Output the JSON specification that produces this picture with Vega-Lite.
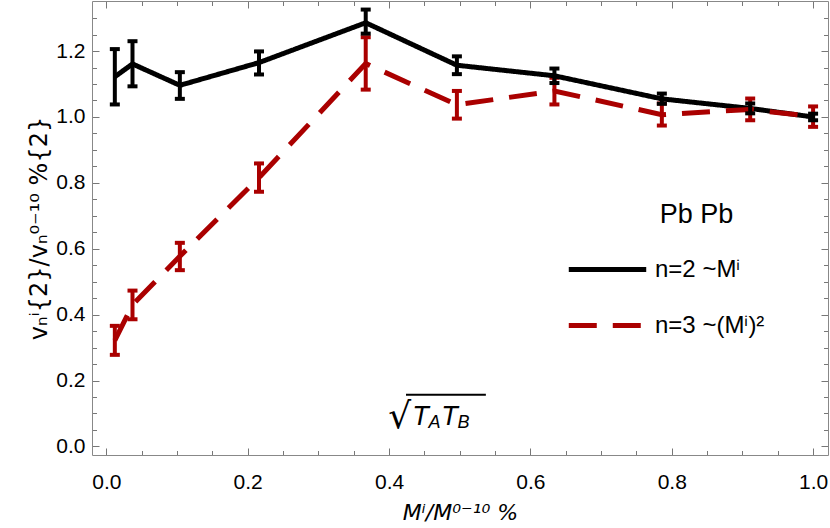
{
  "$schema": "https://vega.github.io/schema/vega-lite/v6.json",
  "width": 736,
  "height": 454,
  "autosize": {"type": "none"},
  "padding": {"left": 92, "top": 1, "right": 2, "bottom": 73},
  "background": "white",
  "config": {
    "view": {"stroke": null},
    "font": "Liberation Sans",
    "axis": {"domainColor": "#888888", "tickColor": "#777777", "labelColor": "black", "labelFont": "Liberation Sans", "labelFontSize": 21, "grid": false, "titleFont": "DejaVu Sans", "titleColor": "black", "titleFontWeight": "normal"}
  },
  "datasets": {
    "pts": [
      {"series": "n=2 ~Mⁱ", "x": 0.012, "y": 1.122, "lo": 1.038, "hi": 1.206},
      {"series": "n=2 ~Mⁱ", "x": 0.037, "y": 1.161, "lo": 1.093, "hi": 1.230},
      {"series": "n=2 ~Mⁱ", "x": 0.104, "y": 1.096, "lo": 1.055, "hi": 1.136},
      {"series": "n=2 ~Mⁱ", "x": 0.216, "y": 1.165, "lo": 1.129, "hi": 1.199},
      {"series": "n=2 ~Mⁱ", "x": 0.367, "y": 1.286, "lo": 1.253, "hi": 1.326},
      {"series": "n=2 ~Mⁱ", "x": 0.496, "y": 1.157, "lo": 1.130, "hi": 1.184},
      {"series": "n=2 ~Mⁱ", "x": 0.634, "y": 1.125, "lo": 1.103, "hi": 1.147},
      {"series": "n=2 ~Mⁱ", "x": 0.786, "y": 1.055, "lo": 1.040, "hi": 1.071},
      {"series": "n=2 ~Mⁱ", "x": 0.911, "y": 1.026, "lo": 1.011, "hi": 1.041},
      {"series": "n=2 ~Mⁱ", "x": 1.0, "y": 1.0, "lo": 0.99, "hi": 1.01},
      {"series": "n=3 ~(Mⁱ)²", "x": 0.012, "y": 0.322, "lo": 0.278, "hi": 0.366},
      {"series": "n=3 ~(Mⁱ)²", "x": 0.037, "y": 0.430, "lo": 0.386, "hi": 0.473},
      {"series": "n=3 ~(Mⁱ)²", "x": 0.104, "y": 0.577, "lo": 0.535, "hi": 0.618},
      {"series": "n=3 ~(Mⁱ)²", "x": 0.216, "y": 0.816, "lo": 0.773, "hi": 0.859},
      {"series": "n=3 ~(Mⁱ)²", "x": 0.367, "y": 1.162, "lo": 1.083, "hi": 1.242},
      {"series": "n=3 ~(Mⁱ)²", "x": 0.496, "y": 1.037, "lo": 0.995, "hi": 1.079},
      {"series": "n=3 ~(Mⁱ)²", "x": 0.634, "y": 1.079, "lo": 1.038, "hi": 1.119},
      {"series": "n=3 ~(Mⁱ)²", "x": 0.786, "y": 1.007, "lo": 0.974, "hi": 1.041},
      {"series": "n=3 ~(Mⁱ)²", "x": 0.911, "y": 1.023, "lo": 0.990, "hi": 1.056},
      {"series": "n=3 ~(Mⁱ)²", "x": 1.0, "y": 1.001, "lo": 0.970, "hi": 1.032}
    ],
    "one": [{"a": 0}]
  },
  "layer": [
    {
      "layer": [
        {
          "data": {"name": "pts"},
          "transform": [{"filter": "datum.series == 'n=3 ~(Mⁱ)²'"}],
          "mark": {"type": "rule", "strokeWidth": 4, "color": "#aa0000"},
          "encoding": {
            "x": {"field": "x", "type": "quantitative"},
            "y": {"field": "lo", "type": "quantitative"},
            "y2": {"field": "hi"}
          }
        },
        {
          "data": {"name": "pts"},
          "transform": [{"filter": "datum.series == 'n=3 ~(Mⁱ)²'"}, {"fold": ["lo", "hi"], "as": ["end", "yv"]}],
          "mark": {"type": "tick", "orient": "horizontal", "size": 10, "thickness": 4, "color": "#aa0000", "opacity": 1},
          "encoding": {
            "x": {"field": "x", "type": "quantitative"},
            "y": {"field": "yv", "type": "quantitative"}
          }
        },
        {
          "data": {"name": "pts"},
          "mark": {"type": "line", "strokeWidth": 5, "strokeCap": "butt"},
          "encoding": {
            "x": {"field": "x", "type": "quantitative"},
            "y": {"field": "y", "type": "quantitative"},
            "color": {"field": "series", "type": "nominal", "scale": {"domain": ["n=2 ~Mⁱ", "n=3 ~(Mⁱ)²"], "range": ["black", "#aa0000"]},
              "legend": {"title": null, "orient": "none", "legendX": 474, "legendY": 227, "symbolType": "stroke", "symbolSize": 6000, "symbolStrokeWidth": 5, "labelFontSize": 24, "labelFont": "Liberation Sans", "labelColor": "black", "labelOffset": 6}},
            "strokeDash": {"field": "series", "type": "nominal", "scale": {"domain": ["n=2 ~Mⁱ", "n=3 ~(Mⁱ)²"], "range": [[1, 0], [28, 16]]}, "legend": null},
            "order": {"field": "x"}
          }
        },
        {
          "data": {"name": "pts"},
          "transform": [{"filter": "datum.series == 'n=2 ~Mⁱ'"}],
          "mark": {"type": "rule", "strokeWidth": 4, "color": "black"},
          "encoding": {
            "x": {"field": "x", "type": "quantitative"},
            "y": {"field": "lo", "type": "quantitative"},
            "y2": {"field": "hi"}
          }
        },
        {
          "data": {"name": "pts"},
          "transform": [{"filter": "datum.series == 'n=2 ~Mⁱ'"}, {"fold": ["lo", "hi"], "as": ["end", "yv"]}],
          "mark": {"type": "tick", "orient": "horizontal", "size": 10, "thickness": 4, "color": "black", "opacity": 1},
          "encoding": {
            "x": {"field": "x", "type": "quantitative"},
            "y": {"field": "yv", "type": "quantitative"}
          }
        }
      ],
      "encoding": {
        "x": {"type": "quantitative", "scale": {"domain": [-0.0203, 1.0211], "nice": false, "zero": false},
          "axis": {"orient": "bottom", "title": "Mⁱ/M⁰⁻¹⁰ %", "titleFontSize": 22, "titleFontStyle": "italic", "titlePadding": 8,
            "values": [0, 0.05, 0.1, 0.15, 0.2, 0.25, 0.3, 0.35, 0.4, 0.45, 0.5, 0.55, 0.6, 0.65, 0.7, 0.75, 0.8, 0.85, 0.9, 0.95, 1.0],
            "labelExpr": "abs(datum.value*5 - round(datum.value*5)) < 0.001 ? format(datum.value, '.1f') : ''",
            "tickColor": "#777777",
            "tickSize": {"condition": {"test": "abs(datum.value*5 - round(datum.value*5)) < 0.001", "value": -7}, "value": -4.5},
            "labelPadding": 23, "labelFlush": false, "labelOverlap": false}},
        "y": {"type": "quantitative", "scale": {"domain": [-0.026, 1.352], "nice": false, "zero": false},
          "axis": {"orient": "left", "title": "vₙⁱ{2}/vₙ⁰⁻¹⁰ %{2}", "titleFontSize": 24, "titlePadding": 4,
            "values": [0, 0.05, 0.1, 0.15, 0.2, 0.25, 0.3, 0.35, 0.4, 0.45, 0.5, 0.55, 0.6, 0.65, 0.7, 0.75, 0.8, 0.85, 0.9, 0.95, 1.0, 1.05, 1.1, 1.15, 1.2, 1.25, 1.3],
            "labelExpr": "abs(datum.value*5 - round(datum.value*5)) < 0.001 ? format(datum.value, '.1f') : ''",
            "tickColor": "#777777",
            "tickSize": {"condition": {"test": "abs(datum.value*5 - round(datum.value*5)) < 0.001", "value": -7}, "value": -4.5},
            "labelPadding": 14, "labelFlush": false, "labelOverlap": false}}
      }
    },
    {
      "data": {"name": "one"},
      "mark": {"type": "point", "opacity": 0},
      "encoding": {
        "x": {"datum": 0.5, "type": "quantitative",
          "axis": {"orient": "top", "title": null, "labels": false, "tickColor": "#777777",
            "values": [0, 0.05, 0.1, 0.15, 0.2, 0.25, 0.3, 0.35, 0.4, 0.45, 0.5, 0.55, 0.6, 0.65, 0.7, 0.75, 0.8, 0.85, 0.9, 0.95, 1.0],
            "tickSize": {"condition": {"test": "abs(datum.value*5 - round(datum.value*5)) < 0.001", "value": -7}, "value": -4.5}}},
        "y": {"datum": 0.5, "type": "quantitative",
          "axis": {"orient": "right", "title": null, "labels": false, "tickColor": "#777777",
            "values": [0, 0.05, 0.1, 0.15, 0.2, 0.25, 0.3, 0.35, 0.4, 0.45, 0.5, 0.55, 0.6, 0.65, 0.7, 0.75, 0.8, 0.85, 0.9, 0.95, 1.0, 1.05, 1.1, 1.15, 1.2, 1.25, 1.3],
            "tickSize": {"condition": {"test": "abs(datum.value*5 - round(datum.value*5)) < 0.001", "value": -7}, "value": -4.5}}}
      }
    },
    {
      "data": {"name": "one"},
      "layer": [
        {
          "mark": {"type": "text", "text": "Pb Pb", "fontSize": 27, "font": "Liberation Sans", "align": "center", "baseline": "middle", "color": "black"},
          "encoding": {"x": {"datum": 0.835}, "y": {"datum": 0.702}}
        },
        {
          "mark": {"type": "text", "text": "√", "fontSize": 36, "font": "DejaVu Sans", "align": "left", "baseline": "alphabetic", "color": "black"},
          "encoding": {"x": {"datum": 0.399}, "y": {"datum": 0.057}}
        },
        {
          "mark": {"type": "rule", "strokeWidth": 2, "color": "black"},
          "encoding": {"x": {"datum": 0.424}, "x2": {"datum": 0.537}, "y": {"datum": 0.157}}
        },
        {
          "mark": {"type": "text", "text": "T", "fontSize": 27, "fontStyle": "italic", "font": "Liberation Sans", "align": "left", "baseline": "alphabetic", "color": "black"},
          "encoding": {"x": {"datum": 0.433}, "y": {"datum": 0.066}}
        },
        {
          "mark": {"type": "text", "text": "A", "fontSize": 18, "fontStyle": "italic", "font": "Liberation Sans", "align": "left", "baseline": "alphabetic", "color": "black"},
          "encoding": {"x": {"datum": 0.456}, "y": {"datum": 0.056}}
        },
        {
          "mark": {"type": "text", "text": "T", "fontSize": 27, "fontStyle": "italic", "font": "Liberation Sans", "align": "left", "baseline": "alphabetic", "color": "black"},
          "encoding": {"x": {"datum": 0.474}, "y": {"datum": 0.066}}
        },
        {
          "mark": {"type": "text", "text": "B", "fontSize": 18, "fontStyle": "italic", "font": "Liberation Sans", "align": "left", "baseline": "alphabetic", "color": "black"},
          "encoding": {"x": {"datum": 0.497}, "y": {"datum": 0.056}}
        }
      ],
      "encoding": {
        "x": {"type": "quantitative", "axis": null},
        "y": {"type": "quantitative", "axis": null}
      }
    }
  ],
  "resolve": {"axis": {"x": "independent", "y": "independent"}}
}
